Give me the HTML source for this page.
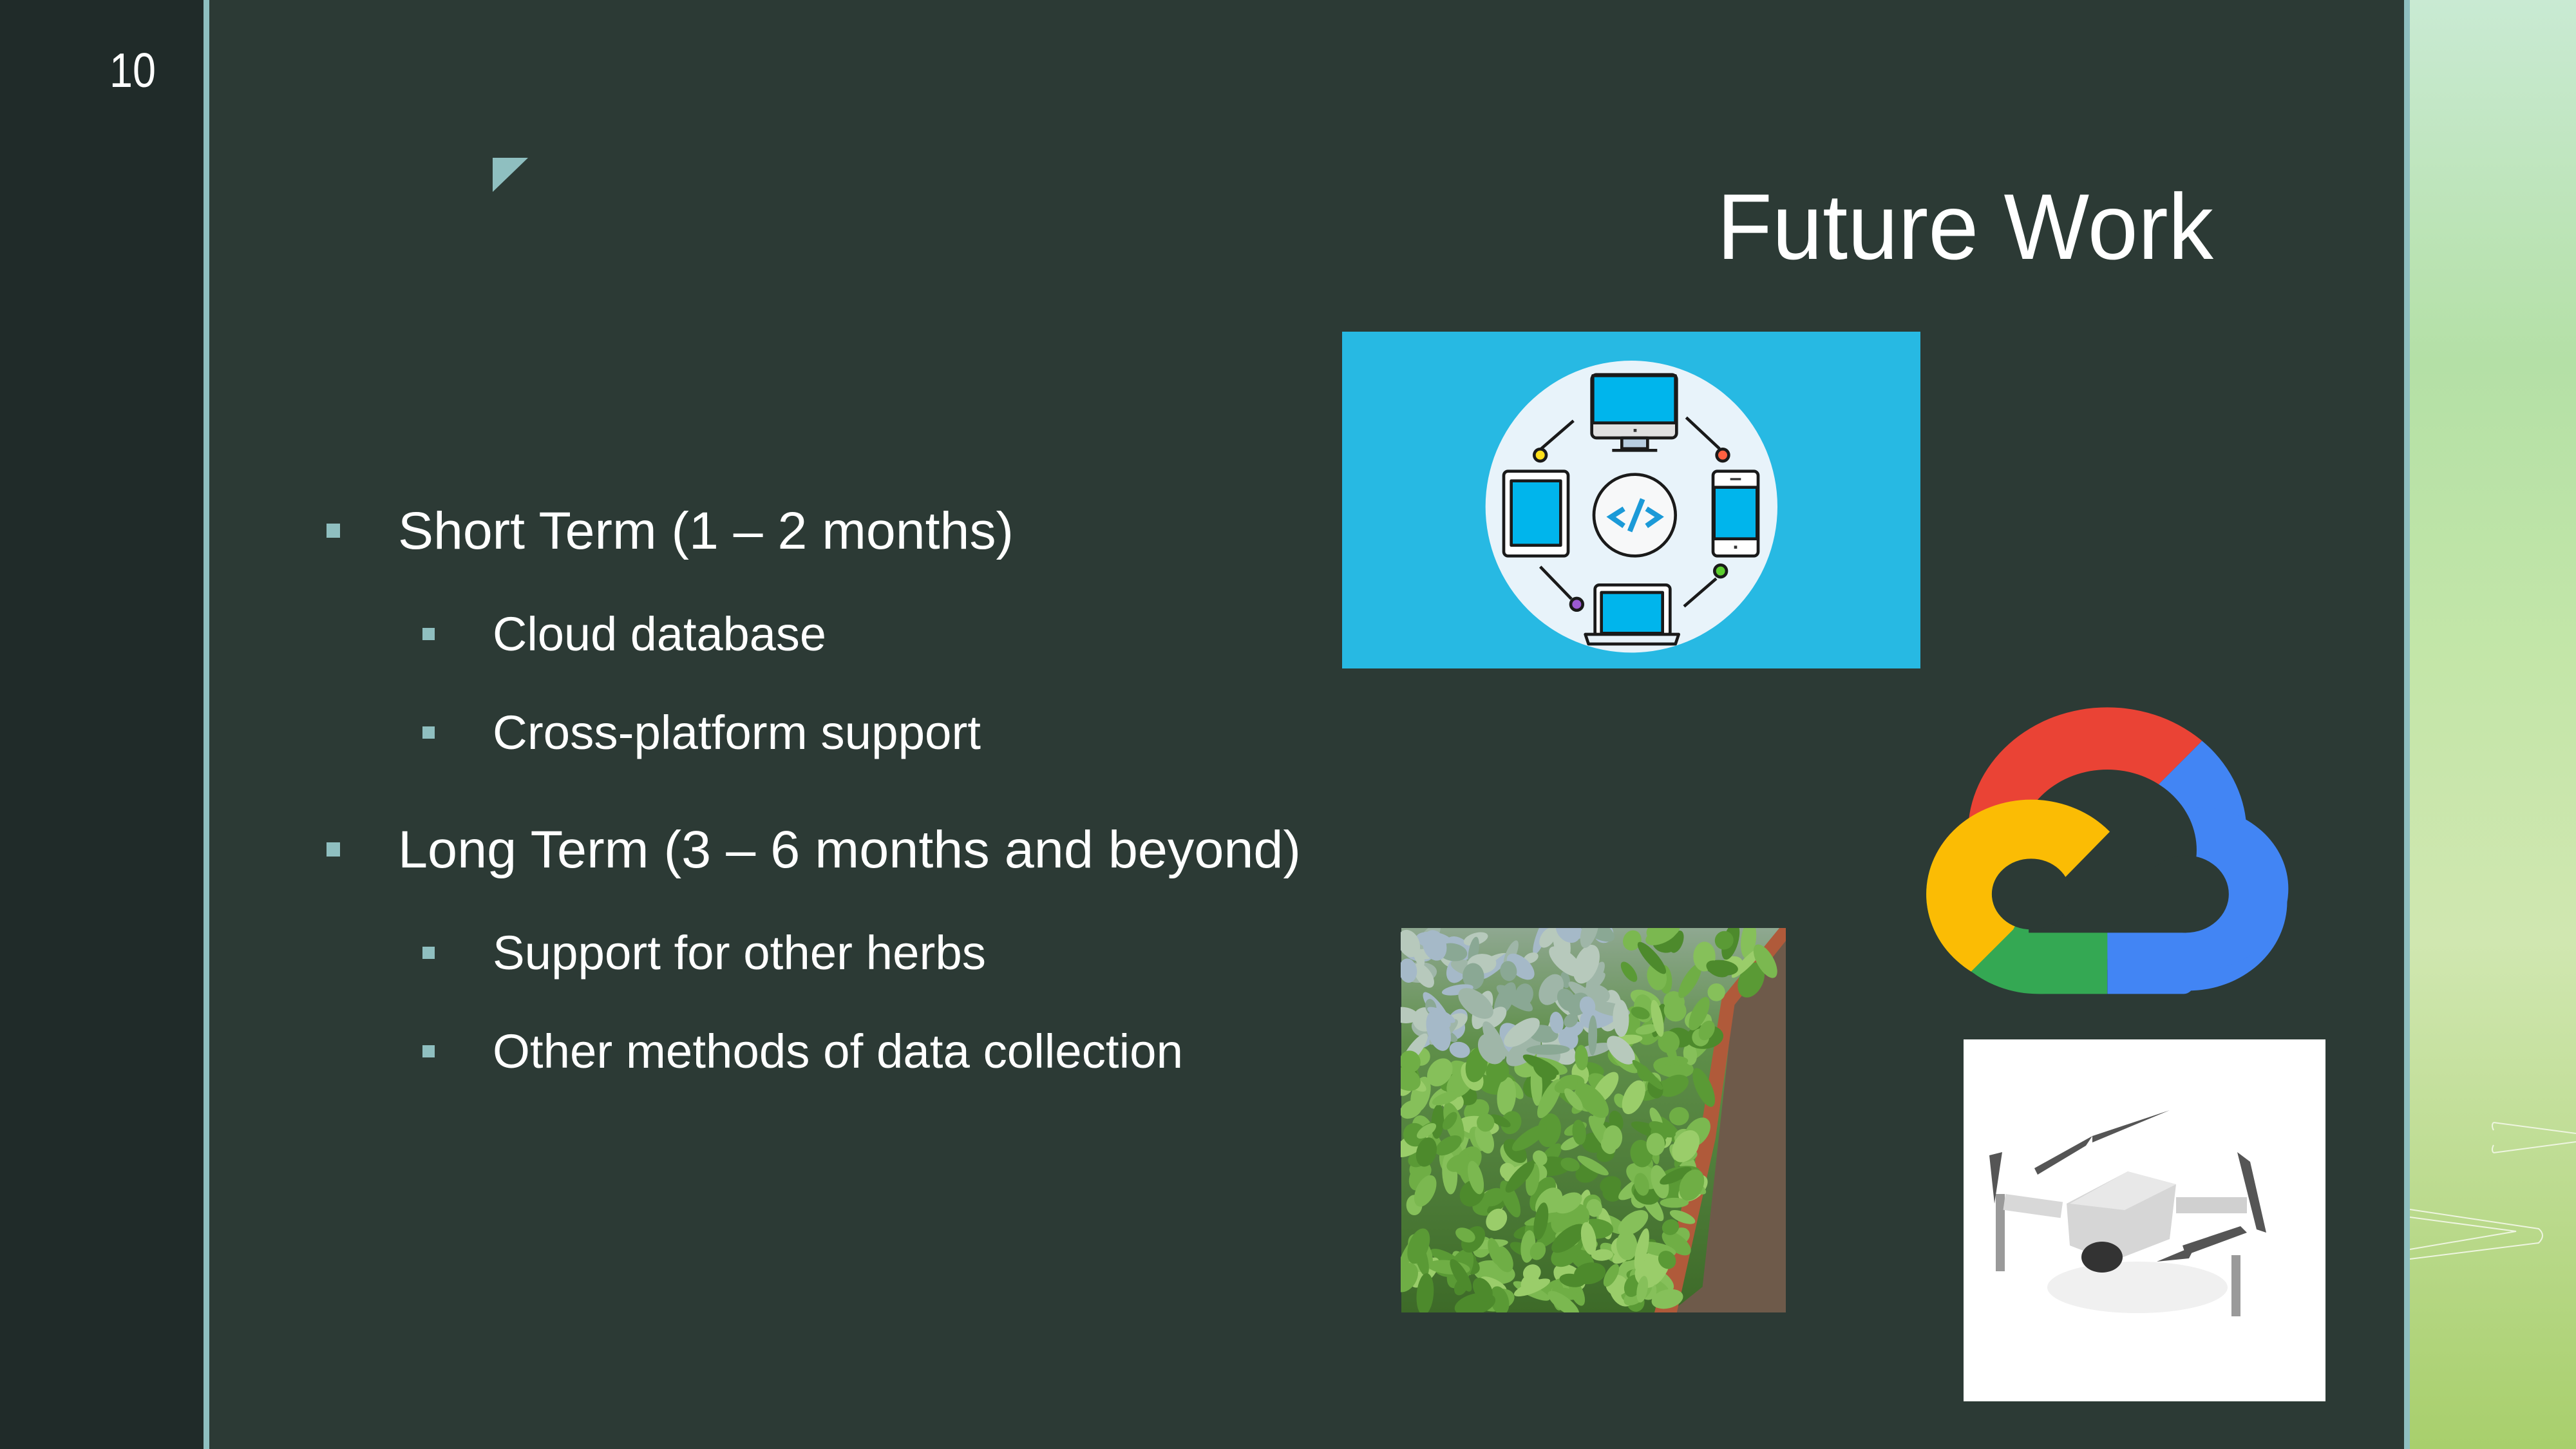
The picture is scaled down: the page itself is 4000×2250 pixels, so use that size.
<!DOCTYPE html>
<html><head><meta charset="utf-8"><style>
html,body{margin:0;padding:0;background:#2c3a35;}
#s{position:relative;width:4000px;height:2250px;overflow:hidden;background:#2c3a35;font-family:"Liberation Sans",Arial,sans-serif;}
.a{position:absolute;}
</style></head><body><div id="s">
<div class="a" style="left:0;top:0;width:316px;height:2250px;background:#202b29"></div>
<div class="a" style="left:316px;top:0;width:9px;height:2250px;background:#8fbfc0"></div>
<div class="a" style="left:3733px;top:0;width:9px;height:2250px;background:#8fbfc0"></div>
<div class="a" style="left:3742px;top:0;width:258px;height:2250px;background:linear-gradient(180deg,#c9ead3 0%,#b4e0a6 25%,#c3e6a8 45%,#d0e7b0 65%,#b9d98a 85%,#a8cf6c 100%)"></div>
<svg class="a" style="left:3742px;top:0" width="258" height="2250"><g fill="none" stroke="#eef5e0" stroke-width="2"><path d="M130,1743 L258,1760 M130,1790 L258,1773 M130,1743 q-4,4 0,12 M130,1790 q-4,-4 0,-12"/><path d="M0,1878 L200,1908 Q212,1918 200,1930 L0,1955 M0,1890 L165,1912 L0,1940"/></g></svg>

<svg class="a" style="left:0;top:0" width="4000" height="2250">
<polygon points="765,245 820,245 765,298" fill="#8fbfc0"/>
<g fill="#fff" font-family="Liberation Sans, Arial, sans-serif">
<text x="170" y="135" font-size="75" textLength="72" lengthAdjust="spacingAndGlyphs">10</text>
<text x="2666" y="402" font-size="145" textLength="771" lengthAdjust="spacingAndGlyphs">Future Work</text>
<text x="618" y="852" font-size="82" textLength="956" lengthAdjust="spacingAndGlyphs">Short Term (1 – 2 months)</text>
<text x="765" y="1010" font-size="74" textLength="518" lengthAdjust="spacingAndGlyphs">Cloud database</text>
<text x="765" y="1163" font-size="74" textLength="758" lengthAdjust="spacingAndGlyphs">Cross-platform support</text>
<text x="618" y="1347" font-size="82" textLength="1402" lengthAdjust="spacingAndGlyphs">Long Term (3 – 6 months and beyond)</text>
<text x="765" y="1505" font-size="74" textLength="766" lengthAdjust="spacingAndGlyphs">Support for other herbs</text>
<text x="765" y="1658" font-size="74" textLength="1072" lengthAdjust="spacingAndGlyphs">Other methods of data collection</text>
</g>
<g fill="#8fbfc0">
<rect x="507" y="813" width="21" height="22"/><rect x="656" y="975" width="19" height="19"/><rect x="656" y="1128" width="19" height="19"/>
<rect x="507" y="1308" width="21" height="22"/><rect x="656" y="1470" width="19" height="19"/><rect x="656" y="1623" width="19" height="19"/>
</g>
</svg>

<!-- devices icon -->
<div class="a" style="left:2084px;top:515px;width:898px;height:523px;background:#27b9e3"></div>
<svg class="a" style="left:2280px;top:540px" width="520" height="500" viewBox="0 0 1560 1500">
<circle cx="760" cy="740" r="680" fill="#e8f3fa"/>
<g stroke="#1a1a1a" stroke-width="14" stroke-linejoin="round">
<rect x="575" y="125" width="395" height="295" rx="22" fill="#e0e0e0"/>
<rect x="580" y="130" width="385" height="220" fill="#00b5ec"/>
<rect x="715" y="420" width="120" height="50" fill="#b8cde0"/>
<line x1="670" y1="478" x2="880" y2="478"/>
<rect x="165" y="575" width="300" height="395" rx="20" fill="#fff"/>
<rect x="200" y="620" width="230" height="300" fill="#00b5ec"/>
<rect x="1140" y="575" width="210" height="395" rx="20" fill="#fff"/>
<rect x="1145" y="650" width="200" height="240" fill="#00b5ec"/>
<rect x="590" y="1105" width="350" height="240" rx="20" fill="#fff"/>
<rect x="620" y="1140" width="285" height="190" fill="#00b5ec"/>
<path d="M545,1335 L980,1335 L965,1380 L560,1380 Z" fill="#e8f3fa"/>
<circle cx="775" cy="780" r="190" fill="#f7f8f9"/>
<path d="M490,340 L340,470 M1015,325 L1170,470 M335,1020 L480,1170 M1005,1205 L1155,1075" fill="none"/>
<circle cx="335" cy="500" r="28" fill="#ffe01a"/>
<circle cx="1185" cy="500" r="28" fill="#ff6040"/>
<circle cx="505" cy="1195" r="28" fill="#9c59d1"/>
<circle cx="1175" cy="1040" r="28" fill="#5ccf2f"/>
</g>
<g stroke="#1b9ad8" stroke-width="24" fill="none"><path d="M725,750 L665,788 L725,830 M830,750 L890,788 L830,830 M812,705 L752,855"/></g>
<rect x="770" y="378" width="14" height="14" fill="#333"/>
<rect x="1220" y="607" width="50" height="10" fill="#333"/>
<rect x="1238" y="922" width="14" height="14" fill="#333"/>
</svg>

<!-- google cloud -->
<svg class="a" style="left:2980px;top:1080px" width="580" height="480" viewBox="0 0 1568 1440" preserveAspectRatio="none">
<defs>
<clipPath id="cr"><polygon points="0,0 1360,0 1180,220 1000,420 700,760 0,760"/></clipPath>
<clipPath id="cb"><polygon points="1360,0 1568,0 1568,1440 790,1440 790,1000 1000,420 1180,220"/></clipPath>
<clipPath id="cg"><polygon points="0,760 700,760 790,1000 790,1440 0,1440"/></clipPath>
<clipPath id="cy"><polygon points="990,420 800,635 610,850 470,925 395,1090 210,1295 100,1440 -100,1440 -100,-100 990,-100"/></clipPath>
<g id="sil"><circle cx="790" cy="640" r="585"/><circle cx="1130" cy="960" r="415"/><circle cx="1170" cy="900" r="380"/><circle cx="470" cy="925" r="440"/><circle cx="500" cy="960" r="430"/><rect x="470" y="900" width="680" height="490" rx="40"/></g>
</defs>
<g fill="#ea4335" clip-path="url(#cr)"><use href="#sil"/></g>
<g fill="#4285f4" clip-path="url(#cb)"><use href="#sil"/></g>
<g fill="#34a853" clip-path="url(#cg)"><use href="#sil"/></g>
<g fill="#2c3a35"><circle cx="790" cy="720" r="375"/><circle cx="1120" cy="925" r="180"/><rect x="460" y="800" width="660" height="305"/><circle cx="470" cy="925" r="165"/></g>
<path clip-path="url(#cy)" fill="#fbbc04" fill-rule="evenodd" d="M30,925 a440,440 0 1,0 880,0 a440,440 0 1,0 -880,0 Z M305,925 a165,165 0 1,0 330,0 a165,165 0 1,0 -330,0 Z"/>
</svg>

<!-- herbs -->
<svg class="a" id="herb" style="left:2175px;top:1441px" width="599" height="597" viewBox="0 0 600 600">
<defs><linearGradient id="hg" x1="0" y1="0" x2="0" y2="1"><stop offset="0" stop-color="#8fa891"/><stop offset="0.3" stop-color="#5f8f4a"/><stop offset="1" stop-color="#3d6a28"/></linearGradient></defs>
<rect width="600" height="600" fill="#6e5a4a"/>
<polygon points="0,0 590,0 520,100 470,560 420,600 0,600" fill="url(#hg)"/>
<polygon points="590,0 600,0 600,20 520,120 490,330 430,600 395,600 465,330 500,110" fill="#b05a3a"/>
<g id="lv"></g>
</svg>

<!-- drone -->
<div class="a" style="left:3049px;top:1614px;width:562px;height:562px;background:#fff"></div>
<svg class="a" style="left:3049px;top:1614px" width="562" height="562" viewBox="0 0 562 562">
<ellipse cx="270" cy="385" rx="140" ry="40" fill="#f0f0f0"/>
<g fill="#9a9a9a"><rect x="50" y="240" width="14" height="120"/><rect x="416" y="335" width="14" height="95"/></g>
<rect x="65" y="240" width="90" height="25" fill="#d8d8d8" transform="rotate(8 65 240)"/>
<rect x="330" y="245" width="110" height="25" fill="#d0d0d0"/>
<path d="M160,255 L255,205 L330,225 L320,310 L230,345 L165,320 Z" fill="#d6d6d6"/>
<path d="M165,255 L255,205 L330,225 L250,265 Z" fill="#e8e8e8"/>
<ellipse cx="215" cy="338" rx="32" ry="24" fill="#333"/>
<g fill="#555"><path d="M40,180 L60,175 L48,255 Z"/><path d="M110,200 L200,150 L190,165 L115,210 Z"/><path d="M200,150 L320,110 L200,160 Z"/><path d="M425,175 L445,190 L470,300 L455,295 Z"/><path d="M340,320 L430,290 L440,300 L345,335 Z"/><path d="M300,345 L360,320 L350,340 Z"/></g>
</svg>

<script>
(function(){var g=document.getElementById('lv');var s=12345;function r(){s=(s*16807)%2147483647;return s/2147483647;}
var out='';
for(var i=0;i<420;i++){var y=r()*590,maxx=y<100?570:(y<330?500-(y-100)*0.15:470-(y-330)*0.18);var x=r()*maxx;
var top=y<200&&x<350;var c=top?['#9fb6a8','#b7c9bc','#8aa894','#a5b9c8'][Math.floor(r()*4)]:['#6fae45','#86c05a','#5a9a35','#9acd6a','#4d8a2c','#7bb850'][Math.floor(r()*6)];
var w=12+r()*22,h=7+r()*12,a=r()*180;
out+='<ellipse cx="'+x.toFixed(1)+'" cy="'+y.toFixed(1)+'" rx="'+w.toFixed(1)+'" ry="'+h.toFixed(1)+'" fill="'+c+'" transform="rotate('+a.toFixed(0)+' '+x.toFixed(1)+' '+y.toFixed(1)+')"/>';}
g.innerHTML=out;})();
</script>
</div></body></html>
